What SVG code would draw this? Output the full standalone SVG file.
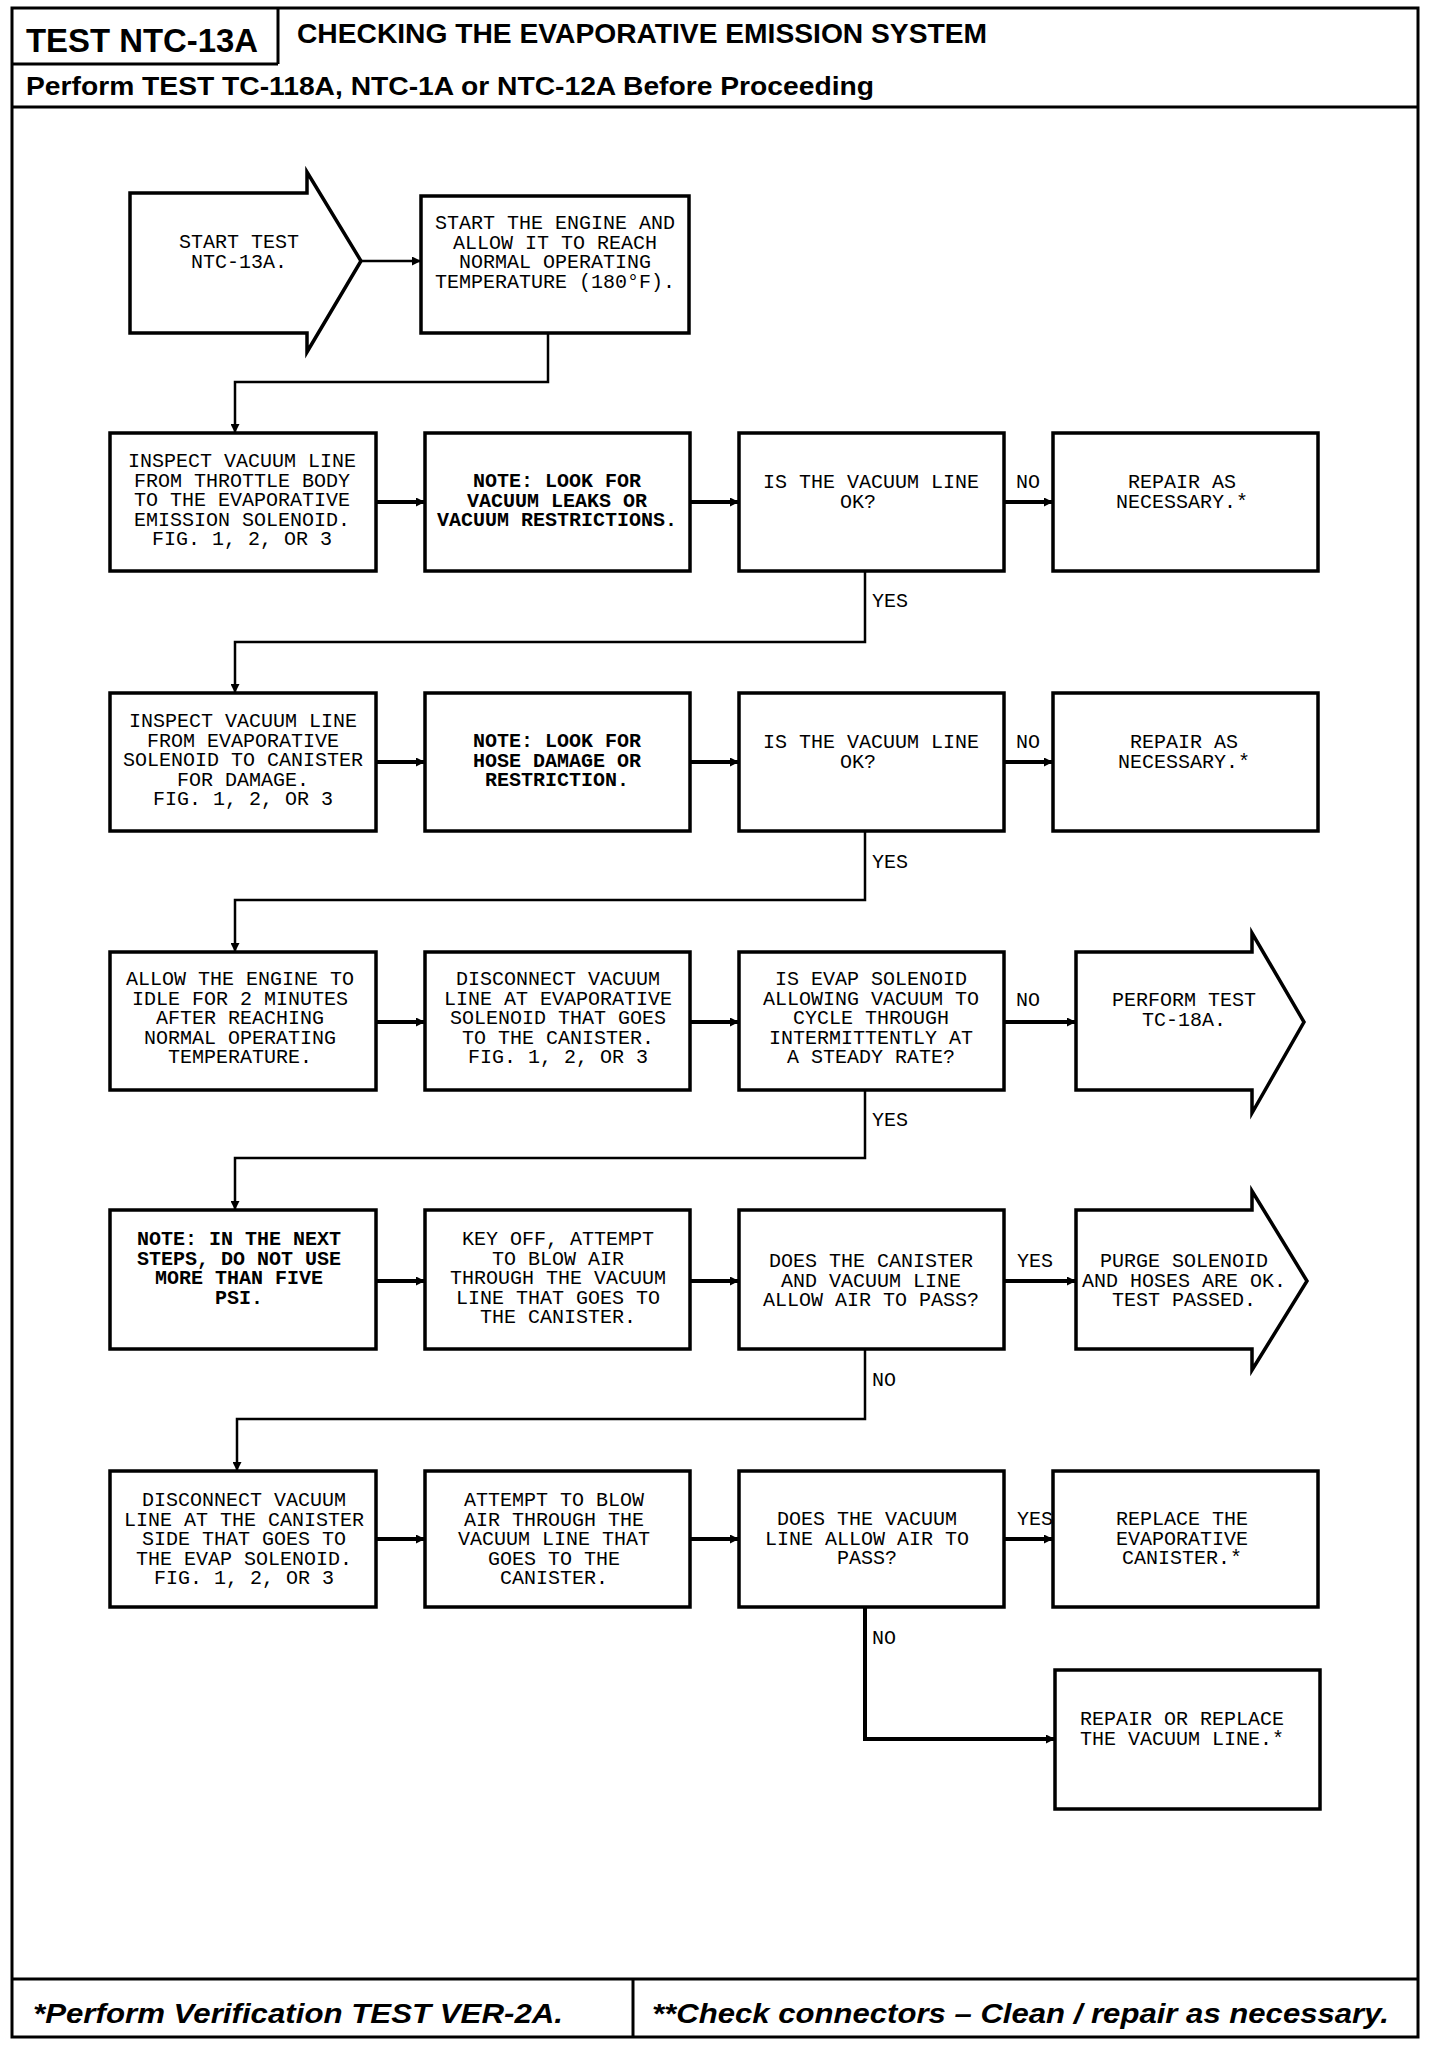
<svg xmlns="http://www.w3.org/2000/svg" width="1440" height="2046" viewBox="0 0 1440 2046">
<style>
.frame{fill:none;stroke:#000;stroke-width:3}
.box{fill:#fff;stroke:#000;stroke-width:3.5}
.conn{fill:none;stroke:#000;stroke-width:2.5}
.harr{fill:none;stroke:#000;stroke-width:4}
.t{font-family:"Liberation Mono","DejaVu Sans Mono",monospace;font-size:20px;text-anchor:middle;fill:#000}
.tb{font-weight:bold}
.lbl{font-family:"Liberation Mono","DejaVu Sans Mono",monospace;font-size:20px;fill:#000}
.hd{font-family:"Liberation Sans",Arial,sans-serif;font-weight:bold;fill:#000}
.ft{font-family:"Liberation Sans",Arial,sans-serif;font-weight:bold;font-style:italic;font-size:28px;fill:#000}
</style>
<defs>
<marker id="ah" viewBox="0 0 10 10" refX="10" refY="5" markerWidth="9" markerHeight="9" markerUnits="userSpaceOnUse" orient="auto">
<path d="M0,0 L10,5 L0,10 z" fill="#000"/>
</marker>
</defs>
<rect width="1440" height="2046" fill="#fff"/>
<g id="frame">
<rect class="frame" x="12" y="8" width="1406" height="2029"/>
<line class="frame" x1="278" y1="8" x2="278" y2="64"/>
<line class="frame" x1="12" y1="64" x2="278" y2="64"/>
<line class="frame" x1="12" y1="107" x2="1418" y2="107"/>
<line class="frame" x1="12" y1="1979" x2="1418" y2="1979"/>
<line class="frame" x1="633" y1="1979" x2="633" y2="2037"/>
<text class="hd" x="26" y="52" font-size="33" textLength="232" lengthAdjust="spacingAndGlyphs">TEST NTC-13A</text>
<text class="hd" x="297" y="43" font-size="27" textLength="690" lengthAdjust="spacingAndGlyphs">CHECKING THE EVAPORATIVE EMISSION SYSTEM</text>
<text class="hd" x="26" y="95" font-size="26" textLength="848" lengthAdjust="spacingAndGlyphs">Perform TEST TC-118A, NTC-1A or NTC-12A Before Proceeding</text>
<text class="ft" x="33" y="2023" textLength="530" lengthAdjust="spacingAndGlyphs">*Perform Verification TEST VER-2A.</text>
<text class="ft" x="652" y="2023" textLength="737" lengthAdjust="spacingAndGlyphs">**Check connectors – Clean / repair as necessary.</text>
</g>

<g id="connectors">
<line class="conn" x1="361" y1="261" x2="421" y2="261" marker-end="url(#ah)"/>
<polyline class="conn" points="548,333 548,382 235,382 235,433" marker-end="url(#ah)"/>
<!-- row 2 -->
<line class="harr" x1="376" y1="502" x2="425" y2="502" marker-end="url(#ah)"/>
<line class="harr" x1="690" y1="502" x2="739" y2="502" marker-end="url(#ah)"/>
<line class="harr" x1="1004" y1="502" x2="1053" y2="502" marker-end="url(#ah)"/>
<polyline class="conn" points="865,571 865,642 235,642 235,693" marker-end="url(#ah)"/>
<!-- row 3 -->
<line class="harr" x1="376" y1="762" x2="425" y2="762" marker-end="url(#ah)"/>
<line class="harr" x1="690" y1="762" x2="739" y2="762" marker-end="url(#ah)"/>
<line class="harr" x1="1004" y1="762" x2="1053" y2="762" marker-end="url(#ah)"/>
<polyline class="conn" points="865,831 865,900 235,900 235,952" marker-end="url(#ah)"/>
<!-- row 4 -->
<line class="harr" x1="376" y1="1022" x2="425" y2="1022" marker-end="url(#ah)"/>
<line class="harr" x1="690" y1="1022" x2="739" y2="1022" marker-end="url(#ah)"/>
<line class="harr" x1="1004" y1="1022" x2="1076" y2="1022" marker-end="url(#ah)"/>
<polyline class="conn" points="865,1090 865,1158 235,1158 235,1210" marker-end="url(#ah)"/>
<!-- row 5 -->
<line class="harr" x1="376" y1="1281" x2="425" y2="1281" marker-end="url(#ah)"/>
<line class="harr" x1="690" y1="1281" x2="739" y2="1281" marker-end="url(#ah)"/>
<line class="harr" x1="1004" y1="1281" x2="1076" y2="1281" marker-end="url(#ah)"/>
<polyline class="conn" points="865,1349 865,1419 237,1419 237,1471" marker-end="url(#ah)"/>
<!-- row 6 -->
<line class="harr" x1="376" y1="1539" x2="425" y2="1539" marker-end="url(#ah)"/>
<line class="harr" x1="690" y1="1539" x2="739" y2="1539" marker-end="url(#ah)"/>
<line class="harr" x1="1004" y1="1539" x2="1053" y2="1539" marker-end="url(#ah)"/>
<polyline class="harr" points="865,1607 865,1739 1055,1739" marker-end="url(#ah)"/>
<!-- labels -->
<text class="lbl" x="872" y="607">YES</text>
<text class="lbl" x="872" y="868">YES</text>
<text class="lbl" x="872" y="1126">YES</text>
<text class="lbl" x="872" y="1386">NO</text>
<text class="lbl" x="872" y="1644">NO</text>
<text class="lbl" x="1016" y="488">NO</text>
<text class="lbl" x="1016" y="748">NO</text>
<text class="lbl" x="1016" y="1006">NO</text>
<text class="lbl" x="1017" y="1267">YES</text>
<text class="lbl" x="1017" y="1525">YES</text>
</g>

<g id="start">
<polygon class="box" points="130,193 307,193 307,172 361,261 307,352 307,333 130,333"/>
<text class="t" x="239" y="248">START TEST<tspan x="239" dy="19.6">NTC-13A.</tspan></text>
</g>
<g id="warmup">
<rect class="box" x="421" y="196" width="268" height="137"/>
<text class="t" x="555" y="229">START THE ENGINE AND<tspan x="555" dy="19.6">ALLOW IT TO REACH</tspan><tspan x="555" dy="19.6">NORMAL OPERATING</tspan><tspan x="555" dy="19.6">TEMPERATURE (180°F).</tspan></text>
</g>

<!-- row 2 -->
<g id="inspect1">
<rect class="box" x="110" y="433" width="266" height="138"/>
<text class="t" x="242" y="467">INSPECT VACUUM LINE<tspan x="242" dy="19.6">FROM THROTTLE BODY</tspan><tspan x="242" dy="19.6">TO THE EVAPORATIVE</tspan><tspan x="242" dy="19.6">EMISSION SOLENOID.</tspan><tspan x="242" dy="19.6">FIG. 1, 2, OR 3</tspan></text>
</g>
<g id="note1">
<rect class="box" x="425" y="433" width="265" height="138"/>
<text class="t tb" x="557" y="487">NOTE: LOOK FOR<tspan x="557" dy="19.6">VACUUM LEAKS OR</tspan><tspan x="557" dy="19.6">VACUUM RESTRICTIONS.</tspan></text>
</g>
<g id="q1">
<rect class="box" x="739" y="433" width="265" height="138"/>
<text class="t" x="871" y="488">IS THE VACUUM LINE<tspan x="858" dy="19.6">OK?</tspan></text>
</g>
<g id="repair1">
<rect class="box" x="1053" y="433" width="265" height="138"/>
<text class="t" x="1182" y="488">REPAIR AS<tspan x="1182" dy="19.6">NECESSARY.*</tspan></text>
</g>

<!-- row 3 -->
<g id="inspect2">
<rect class="box" x="110" y="693" width="266" height="138"/>
<text class="t" x="243" y="727">INSPECT VACUUM LINE<tspan x="243" dy="19.6">FROM EVAPORATIVE</tspan><tspan x="243" dy="19.6">SOLENOID TO CANISTER</tspan><tspan x="243" dy="19.6">FOR DAMAGE.</tspan><tspan x="243" dy="19.6">FIG. 1, 2, OR 3</tspan></text>
</g>
<g id="note2">
<rect class="box" x="425" y="693" width="265" height="138"/>
<text class="t tb" x="557" y="747">NOTE: LOOK FOR<tspan x="557" dy="19.6">HOSE DAMAGE OR</tspan><tspan x="557" dy="19.6">RESTRICTION.</tspan></text>
</g>
<g id="q2">
<rect class="box" x="739" y="693" width="265" height="138"/>
<text class="t" x="871" y="748">IS THE VACUUM LINE<tspan x="858" dy="19.6">OK?</tspan></text>
</g>
<g id="repair2">
<rect class="box" x="1053" y="693" width="265" height="138"/>
<text class="t" x="1184" y="748">REPAIR AS<tspan x="1184" dy="19.6">NECESSARY.*</tspan></text>
</g>

<!-- row 4 -->
<g id="idle">
<rect class="box" x="110" y="952" width="266" height="138"/>
<text class="t" x="240" y="985">ALLOW THE ENGINE TO<tspan x="240" dy="19.6">IDLE FOR 2 MINUTES</tspan><tspan x="240" dy="19.6">AFTER REACHING</tspan><tspan x="240" dy="19.6">NORMAL OPERATING</tspan><tspan x="240" dy="19.6">TEMPERATURE.</tspan></text>
</g>
<g id="disconnect1">
<rect class="box" x="425" y="952" width="265" height="138"/>
<text class="t" x="558" y="985">DISCONNECT VACUUM<tspan x="558" dy="19.6">LINE AT EVAPORATIVE</tspan><tspan x="558" dy="19.6">SOLENOID THAT GOES</tspan><tspan x="558" dy="19.6">TO THE CANISTER.</tspan><tspan x="558" dy="19.6">FIG. 1, 2, OR 3</tspan></text>
</g>
<g id="q3">
<rect class="box" x="739" y="952" width="265" height="138"/>
<text class="t" x="871" y="985">IS EVAP SOLENOID<tspan x="871" dy="19.6">ALLOWING VACUUM TO</tspan><tspan x="871" dy="19.6">CYCLE THROUGH</tspan><tspan x="871" dy="19.6">INTERMITTENTLY AT</tspan><tspan x="871" dy="19.6">A STEADY RATE?</tspan></text>
</g>
<g id="tc18a">
<polygon class="box" points="1076,952 1252,952 1252,933 1304,1022 1252,1113 1252,1090 1076,1090"/>
<text class="t" x="1184" y="1006">PERFORM TEST<tspan x="1184" dy="19.6">TC-18A.</tspan></text>
</g>

<!-- row 5 -->
<g id="note3">
<rect class="box" x="110" y="1210" width="266" height="139"/>
<text class="t tb" x="239" y="1245">NOTE: IN THE NEXT<tspan x="239" dy="19.6">STEPS, DO NOT USE</tspan><tspan x="239" dy="19.6">MORE THAN FIVE</tspan><tspan x="239" dy="19.6">PSI.</tspan></text>
</g>
<g id="blow1">
<rect class="box" x="425" y="1210" width="265" height="139"/>
<text class="t" x="558" y="1245">KEY OFF, ATTEMPT<tspan x="558" dy="19.6">TO BLOW AIR</tspan><tspan x="558" dy="19.6">THROUGH THE VACUUM</tspan><tspan x="558" dy="19.6">LINE THAT GOES TO</tspan><tspan x="558" dy="19.6">THE CANISTER.</tspan></text>
</g>
<g id="q4">
<rect class="box" x="739" y="1210" width="265" height="139"/>
<text class="t" x="871" y="1267">DOES THE CANISTER<tspan x="871" dy="19.6">AND VACUUM LINE</tspan><tspan x="871" dy="19.6">ALLOW AIR TO PASS?</tspan></text>
</g>
<g id="passed">
<polygon class="box" points="1076,1210 1252,1210 1252,1191 1307,1281 1252,1370 1252,1349 1076,1349"/>
<text class="t" x="1184" y="1267">PURGE SOLENOID<tspan x="1184" dy="19.6">AND HOSES ARE OK.</tspan><tspan x="1184" dy="19.6">TEST PASSED.</tspan></text>
</g>

<!-- row 6 -->
<g id="disconnect2">
<rect class="box" x="110" y="1471" width="266" height="136"/>
<text class="t" x="244" y="1506">DISCONNECT VACUUM<tspan x="244" dy="19.6">LINE AT THE CANISTER</tspan><tspan x="244" dy="19.6">SIDE THAT GOES TO</tspan><tspan x="244" dy="19.6">THE EVAP SOLENOID.</tspan><tspan x="244" dy="19.6">FIG. 1, 2, OR 3</tspan></text>
</g>
<g id="blow2">
<rect class="box" x="425" y="1471" width="265" height="136"/>
<text class="t" x="554" y="1506">ATTEMPT TO BLOW<tspan x="554" dy="19.6">AIR THROUGH THE</tspan><tspan x="554" dy="19.6">VACUUM LINE THAT</tspan><tspan x="554" dy="19.6">GOES TO THE</tspan><tspan x="554" dy="19.6">CANISTER.</tspan></text>
</g>
<g id="q5">
<rect class="box" x="739" y="1471" width="265" height="136"/>
<text class="t" x="867" y="1525">DOES THE VACUUM<tspan x="867" dy="19.6">LINE ALLOW AIR TO</tspan><tspan x="867" dy="19.6">PASS?</tspan></text>
</g>
<g id="replace">
<rect class="box" x="1053" y="1471" width="265" height="136"/>
<text class="t" x="1182" y="1525">REPLACE THE<tspan x="1182" dy="19.6">EVAPORATIVE</tspan><tspan x="1182" dy="19.6">CANISTER.*</tspan></text>
</g>

<!-- row 7 -->
<g id="repairline">
<rect class="box" x="1055" y="1670" width="265" height="139"/>
<text class="t" x="1182" y="1725">REPAIR OR REPLACE<tspan x="1182" dy="19.6">THE VACUUM LINE.*</tspan></text>
</g>
</svg>
